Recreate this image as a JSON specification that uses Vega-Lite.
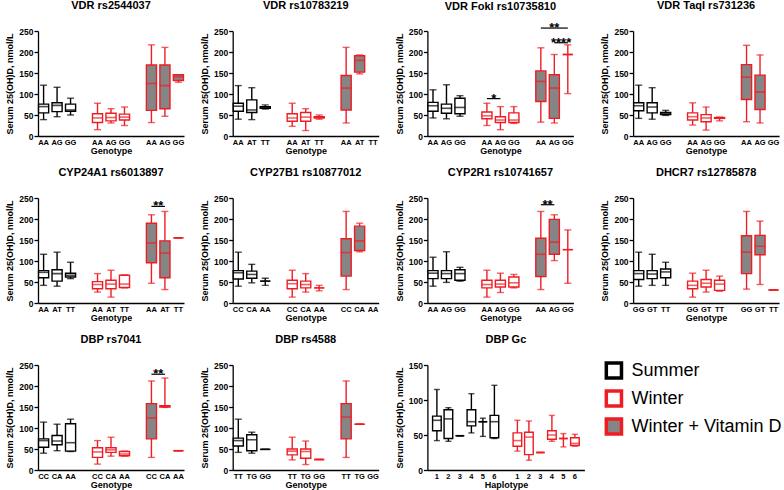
{
"$schema": "https://vega.github.io/schema/vega-lite/v6.json",
"padding": {"left": 5, "top": 0, "right": 0, "bottom": 0},
"columns": 4,
"align": "none",
"bounds": "flush",
"spacing": {"column": 48.7, "row": 62},
"resolve": {"legend": {"fill": "independent", "stroke": "independent"}},
"datasets": {
"box": [
{"p":1,"s":"Summer","k":"S|AA","lo":39,"q1":55,"md":70,"q3":76,"hi":121},
{"p":1,"s":"Summer","k":"S|AG","lo":46,"q1":58,"md":73,"q3":79,"hi":116},
{"p":1,"s":"Summer","k":"S|GG","lo":50,"q1":59,"md":62,"q3":76,"hi":90},
{"p":1,"s":"Winter","k":"W|AA","lo":15,"q1":32,"md":43,"q3":53,"hi":78},
{"p":1,"s":"Winter","k":"W|AG","lo":31,"q1":36,"md":44,"q3":54,"hi":65},
{"p":1,"s":"Winter","k":"W|GG","lo":25,"q1":38,"md":45,"q3":52,"hi":69},
{"p":1,"s":"Winter + Vitamin D","k":"V|AA","lo":32,"q1":61,"md":125,"q3":169,"hi":217},
{"p":1,"s":"Winter + Vitamin D","k":"V|AG","lo":47,"q1":65,"md":120,"q3":169,"hi":211},
{"p":1,"s":"Winter + Vitamin D","k":"V|GG","lo":128,"q1":132,"md":141,"q3":146,"hi":146},
{"p":2,"s":"Summer","k":"S|AA","lo":40,"q1":59,"md":71,"q3":78,"hi":120},
{"p":2,"s":"Summer","k":"S|AT","lo":39,"q1":56,"md":62,"q3":86,"hi":115},
{"p":2,"s":"Summer","k":"S|TT","lo":64,"q1":66,"md":68,"q3":70,"hi":74},
{"p":2,"s":"Winter","k":"W|AA","lo":23,"q1":35,"md":43,"q3":53,"hi":78},
{"p":2,"s":"Winter","k":"W|AT","lo":13,"q1":35,"md":45,"q3":56,"hi":65},
{"p":2,"s":"Winter","k":"W|TT","lo":40,"q1":43,"md":44,"q3":46,"hi":50},
{"p":2,"s":"Winter + Vitamin D","k":"V|AA","lo":31,"q1":62,"md":114,"q3":144,"hi":211},
{"p":2,"s":"Winter + Vitamin D","k":"V|AT","lo":148,"q1":152,"md":180,"q3":191,"hi":193},
{"p":3,"s":"Summer","k":"S|AA","lo":43,"q1":59,"md":72,"q3":80,"hi":110},
{"p":3,"s":"Summer","k":"S|AG","lo":41,"q1":54,"md":66,"q3":76,"hi":122},
{"p":3,"s":"Summer","k":"S|GG","lo":47,"q1":53,"md":68,"q3":90,"hi":96},
{"p":3,"s":"Winter","k":"W|AA","lo":25,"q1":41,"md":48,"q3":57,"hi":78},
{"p":3,"s":"Winter","k":"W|AG","lo":15,"q1":32,"md":38,"q3":46,"hi":70},
{"p":3,"s":"Winter","k":"W|GG","lo":30,"q1":32,"md":38,"q3":55,"hi":70},
{"p":3,"s":"Winter + Vitamin D","k":"V|AA","lo":33,"q1":82,"md":130,"q3":155,"hi":210},
{"p":3,"s":"Winter + Vitamin D","k":"V|AG","lo":31,"q1":42,"md":114,"q3":146,"hi":194},
{"p":3,"s":"Winter + Vitamin D","k":"V|GG","lo":101,"q1":194,"md":194,"q3":194,"hi":217},
{"p":4,"s":"Summer","k":"S|AA","lo":42,"q1":60,"md":72,"q3":79,"hi":121},
{"p":4,"s":"Summer","k":"S|AG","lo":40,"q1":55,"md":69,"q3":79,"hi":115},
{"p":4,"s":"Summer","k":"S|GG","lo":49,"q1":51,"md":53,"q3":56,"hi":61},
{"p":4,"s":"Winter","k":"W|AA","lo":26,"q1":38,"md":46,"q3":55,"hi":79},
{"p":4,"s":"Winter","k":"W|AG","lo":14,"q1":34,"md":43,"q3":51,"hi":69},
{"p":4,"s":"Winter","k":"W|GG","lo":36,"q1":42,"md":43,"q3":44,"hi":45},
{"p":4,"s":"Winter + Vitamin D","k":"V|AA","lo":34,"q1":87,"md":140,"q3":170,"hi":216},
{"p":4,"s":"Winter + Vitamin D","k":"V|AG","lo":31,"q1":63,"md":105,"q3":145,"hi":193},
{"p":5,"s":"Summer","k":"S|AA","lo":42,"q1":60,"md":73,"q3":77,"hi":116},
{"p":5,"s":"Summer","k":"S|AT","lo":40,"q1":52,"md":70,"q3":79,"hi":121},
{"p":5,"s":"Summer","k":"S|TT","lo":58,"q1":62,"md":66,"q3":71,"hi":97},
{"p":5,"s":"Winter","k":"W|AA","lo":26,"q1":34,"md":44,"q3":51,"hi":70},
{"p":5,"s":"Winter","k":"W|AT","lo":14,"q1":34,"md":45,"q3":54,"hi":78},
{"p":5,"s":"Winter","k":"W|TT","lo":36,"q1":37,"md":45,"q3":66,"hi":67},
{"p":5,"s":"Winter + Vitamin D","k":"V|AA","lo":47,"q1":96,"md":143,"q3":190,"hi":210},
{"p":5,"s":"Winter + Vitamin D","k":"V|AT","lo":32,"q1":60,"md":119,"q3":148,"hi":218},
{"p":5,"s":"Winter + Vitamin D","k":"V|TT","lo":155,"q1":155,"md":155,"q3":155,"hi":155},
{"p":6,"s":"Summer","k":"S|CC","lo":40,"q1":57,"md":72,"q3":77,"hi":121},
{"p":6,"s":"Summer","k":"S|CA","lo":48,"q1":59,"md":68,"q3":76,"hi":92},
{"p":6,"s":"Summer","k":"S|AA","lo":42,"q1":52,"md":52,"q3":52,"hi":59},
{"p":6,"s":"Winter","k":"W|CC","lo":14,"q1":34,"md":46,"q3":54,"hi":78},
{"p":6,"s":"Winter","k":"W|CA","lo":26,"q1":36,"md":44,"q3":52,"hi":70},
{"p":6,"s":"Winter","k":"W|AA","lo":29,"q1":36,"md":36,"q3":36,"hi":42},
{"p":6,"s":"Winter + Vitamin D","k":"V|CC","lo":32,"q1":64,"md":120,"q3":153,"hi":218},
{"p":6,"s":"Winter + Vitamin D","k":"V|CA","lo":122,"q1":125,"md":148,"q3":183,"hi":190},
{"p":7,"s":"Summer","k":"S|AA","lo":40,"q1":58,"md":71,"q3":77,"hi":109},
{"p":7,"s":"Summer","k":"S|AG","lo":49,"q1":58,"md":70,"q3":77,"hi":122},
{"p":7,"s":"Summer","k":"S|GG","lo":52,"q1":54,"md":70,"q3":79,"hi":85},
{"p":7,"s":"Winter","k":"W|AA","lo":14,"q1":36,"md":44,"q3":54,"hi":78},
{"p":7,"s":"Winter","k":"W|AG","lo":25,"q1":38,"md":45,"q3":54,"hi":71},
{"p":7,"s":"Winter","k":"W|GG","lo":36,"q1":38,"md":48,"q3":62,"hi":68},
{"p":7,"s":"Winter + Vitamin D","k":"V|AA","lo":32,"q1":63,"md":116,"q3":154,"hi":218},
{"p":7,"s":"Winter + Vitamin D","k":"V|AG","lo":101,"q1":116,"md":145,"q3":199,"hi":210},
{"p":7,"s":"Winter + Vitamin D","k":"V|GG","lo":47,"q1":127,"md":127,"q3":127,"hi":174},
{"p":8,"s":"Summer","k":"S|GG","lo":40,"q1":56,"md":70,"q3":77,"hi":121},
{"p":8,"s":"Summer","k":"S|GT","lo":42,"q1":58,"md":69,"q3":77,"hi":116},
{"p":8,"s":"Summer","k":"S|TT","lo":42,"q1":60,"md":74,"q3":81,"hi":97},
{"p":8,"s":"Winter","k":"W|GG","lo":14,"q1":34,"md":42,"q3":52,"hi":71},
{"p":8,"s":"Winter","k":"W|GT","lo":26,"q1":38,"md":47,"q3":56,"hi":78},
{"p":8,"s":"Winter","k":"W|TT","lo":28,"q1":30,"md":45,"q3":54,"hi":64},
{"p":8,"s":"Winter + Vitamin D","k":"V|GG","lo":33,"q1":70,"md":121,"q3":160,"hi":218},
{"p":8,"s":"Winter + Vitamin D","k":"V|GT","lo":44,"q1":115,"md":135,"q3":161,"hi":195},
{"p":8,"s":"Winter + Vitamin D","k":"V|TT","lo":31,"q1":31,"md":31,"q3":31,"hi":31},
{"p":9,"s":"Summer","k":"S|CC","lo":40,"q1":54,"md":70,"q3":74,"hi":114},
{"p":9,"s":"Summer","k":"S|CA","lo":46,"q1":60,"md":69,"q3":82,"hi":109},
{"p":9,"s":"Summer","k":"S|AA","lo":44,"q1":45,"md":65,"q3":110,"hi":121},
{"p":9,"s":"Winter","k":"W|CC","lo":14,"q1":30,"md":43,"q3":53,"hi":70},
{"p":9,"s":"Winter","k":"W|CA","lo":33,"q1":42,"md":48,"q3":53,"hi":78},
{"p":9,"s":"Winter","k":"W|AA","lo":33,"q1":34,"md":38,"q3":44,"hi":45},
{"p":9,"s":"Winter + Vitamin D","k":"V|CC","lo":30,"q1":74,"md":124,"q3":158,"hi":212},
{"p":9,"s":"Winter + Vitamin D","k":"V|CA","lo":149,"q1":150,"md":152,"q3":153,"hi":219},
{"p":9,"s":"Winter + Vitamin D","k":"V|AA","lo":46,"q1":46,"md":46,"q3":46,"hi":46},
{"p":10,"s":"Summer","k":"S|TT","lo":42,"q1":57,"md":70,"q3":76,"hi":121},
{"p":10,"s":"Summer","k":"S|TG","lo":40,"q1":46,"md":72,"q3":84,"hi":90},
{"p":10,"s":"Summer","k":"S|GG","lo":49,"q1":49,"md":49,"q3":49,"hi":49},
{"p":10,"s":"Winter","k":"W|TT","lo":24,"q1":36,"md":45,"q3":50,"hi":78},
{"p":10,"s":"Winter","k":"W|TG","lo":13,"q1":28,"md":44,"q3":50,"hi":69},
{"p":10,"s":"Winter","k":"W|GG","lo":25,"q1":25,"md":25,"q3":25,"hi":25},
{"p":10,"s":"Winter + Vitamin D","k":"V|TT","lo":30,"q1":74,"md":126,"q3":158,"hi":212},
{"p":10,"s":"Winter + Vitamin D","k":"V|TG","lo":109,"q1":109,"md":109,"q3":109,"hi":109},
{"p":11,"s":"Summer","k":"S|1","lo":42,"q1":56,"md":71,"q3":77,"hi":115},
{"p":11,"s":"Summer","k":"S|2","lo":41,"q1":45,"md":73,"q3":86,"hi":89},
{"p":11,"s":"Summer","k":"S|3","lo":49,"q1":49,"md":49,"q3":49,"hi":49},
{"p":11,"s":"Summer","k":"S|4","lo":53,"q1":63,"md":69,"q3":86,"hi":109},
{"p":11,"s":"Summer","k":"S|5","lo":48,"q1":69,"md":69,"q3":69,"hi":74},
{"p":11,"s":"Summer","k":"S|6","lo":45,"q1":46,"md":69,"q3":78,"hi":121},
{"p":11,"s":"Winter","k":"W|1","lo":27,"q1":34,"md":42,"q3":53,"hi":71},
{"p":11,"s":"Winter","k":"W|2","lo":14,"q1":22,"md":47,"q3":54,"hi":70},
{"p":11,"s":"Winter","k":"W|3","lo":25,"q1":25,"md":25,"q3":25,"hi":25},
{"p":11,"s":"Winter","k":"W|4","lo":41,"q1":44,"md":50,"q3":56,"hi":78},
{"p":11,"s":"Winter","k":"W|5","lo":33,"q1":45,"md":45,"q3":45,"hi":52},
{"p":11,"s":"Winter","k":"W|6","lo":34,"q1":35,"md":38,"q3":46,"hi":51}
],
"sig": [
{"p":3,"k1":"V|AA","k2":"V|GG","kt":"V|AG","mid":true,"y":257,"t":"**"},
{"p":3,"k1":"V|AG","k2":"V|GG","kt":"V|AG","mid":false,"y":222,"t":"****"},
{"p":3,"k1":"W|AA","k2":"W|AG","kt":"W|AA","mid":false,"y":89,"t":"*"},
{"p":5,"k1":"V|AA","k2":"V|AT","kt":"V|AA","mid":false,"y":230,"t":"**"},
{"p":7,"k1":"V|AA","k2":"V|AG","kt":"V|AA","mid":false,"y":234,"t":"**"},
{"p":9,"k1":"V|CC","k2":"V|CA","kt":"V|CC","mid":false,"y":228,"t":"**"}
]
},
"concat": [
{"title":"VDR rs2544037","width":146,"height":105,
 "encoding":{"x":{"field":"k","type":"nominal","title":"Genotype","scale":{"domain":["S|AA","S|AG","S|GG","g1","W|AA","W|AG","W|GG","g2","V|AA","V|AG","V|GG"],"paddingInner":0.25,"paddingOuter":0.04},"axis":{"labelExpr":"split(datum.value,'|')[1] || ''"}}},
 "layer":[
  {"data":{"name":"box"},"transform":[{"filter":"datum.p==1"}],"layer":[
   {"mark":{"type":"rule","strokeWidth":1.4},"encoding":{"y":{"field":"lo","type":"quantitative","scale":{"domain":[0,250],"nice":false},"axis":{"values":[0,50,100,150,200,250]},"title":"Serum 25(OH)D, nmol/L"},"y2":{"field":"hi"},"color":{"field":"s","type":"nominal","scale":{"domain":["Summer","Winter","Winter + Vitamin D"],"range":["#000000","#ee1d23","#ee1d23"]},"legend":null}}},
   {"mark":{"type":"bar","strokeWidth":1.4},"encoding":{"y":{"field":"q1","type":"quantitative","scale":{"domain":[0,250],"nice":false},"axis":{"values":[0,50,100,150,200,250]},"title":"Serum 25(OH)D, nmol/L"},"y2":{"field":"q3"},
     "fill":{"field":"s","type":"nominal","scale":{"domain":["Summer","Winter","Winter + Vitamin D"],"range":["#ffffff","#ffffff","#858585"]},"legend":null},
     "stroke":{"field":"s","type":"nominal","scale":{"domain":["Summer","Winter","Winter + Vitamin D"],"range":["#000000","#ee1d23","#ee1d23"]},"legend":null}}},
   {"mark":{"type":"tick","size":7,"thickness":1.4},"encoding":{"y":{"field":"lo","type":"quantitative","scale":{"domain":[0,250],"nice":false},"axis":{"values":[0,50,100,150,200,250]},"title":"Serum 25(OH)D, nmol/L"},"color":{"field":"s","type":"nominal","legend":null}}},
   {"mark":{"type":"tick","size":7,"thickness":1.4},"encoding":{"y":{"field":"hi","type":"quantitative","scale":{"domain":[0,250],"nice":false},"axis":{"values":[0,50,100,150,200,250]},"title":"Serum 25(OH)D, nmol/L"},"color":{"field":"s","type":"nominal","legend":null}}},
   {"mark":{"type":"tick","thickness":1.6},"encoding":{"y":{"field":"md","type":"quantitative","scale":{"domain":[0,250],"nice":false},"axis":{"values":[0,50,100,150,200,250]},"title":"Serum 25(OH)D, nmol/L"},"color":{"field":"s","type":"nominal","legend":null}}}
  ]}
 ]},
{"title":"VDR rs10783219","width":146,"height":105,
 "encoding":{"x":{"field":"k","type":"nominal","title":"Genotype","scale":{"domain":["S|AA","S|AT","S|TT","g1","W|AA","W|AT","W|TT","g2","V|AA","V|AT","V|TT"],"paddingInner":0.25,"paddingOuter":0.04},"axis":{"labelExpr":"split(datum.value,'|')[1] || ''"}}},
 "layer":[
  {"data":{"name":"box"},"transform":[{"filter":"datum.p==2"}],"layer":[
   {"mark":{"type":"rule","strokeWidth":1.4},"encoding":{"y":{"field":"lo","type":"quantitative","scale":{"domain":[0,250],"nice":false},"axis":{"values":[0,50,100,150,200,250]},"title":"Serum 25(OH)D, nmol/L"},"y2":{"field":"hi"},"color":{"field":"s","type":"nominal","legend":null}}},
   {"mark":{"type":"bar","strokeWidth":1.4},"encoding":{"y":{"field":"q1","type":"quantitative","scale":{"domain":[0,250],"nice":false},"axis":{"values":[0,50,100,150,200,250]},"title":"Serum 25(OH)D, nmol/L"},"y2":{"field":"q3"},"fill":{"field":"s","type":"nominal","legend":null},"stroke":{"field":"s","type":"nominal","legend":null}}},
   {"mark":{"type":"tick","size":7,"thickness":1.4},"encoding":{"y":{"field":"lo","type":"quantitative","scale":{"domain":[0,250],"nice":false},"axis":{"values":[0,50,100,150,200,250]},"title":"Serum 25(OH)D, nmol/L"},"color":{"field":"s","type":"nominal","legend":null}}},
   {"mark":{"type":"tick","size":7,"thickness":1.4},"encoding":{"y":{"field":"hi","type":"quantitative","scale":{"domain":[0,250],"nice":false},"axis":{"values":[0,50,100,150,200,250]},"title":"Serum 25(OH)D, nmol/L"},"color":{"field":"s","type":"nominal","legend":null}}},
   {"mark":{"type":"tick","thickness":1.6},"encoding":{"y":{"field":"md","type":"quantitative","scale":{"domain":[0,250],"nice":false},"axis":{"values":[0,50,100,150,200,250]},"title":"Serum 25(OH)D, nmol/L"},"color":{"field":"s","type":"nominal","legend":null}}}
  ]}
 ]},
{"title":{"text":"VDR FokI rs10735810","dy":6},"width":146,"height":105,
 "encoding":{"x":{"field":"k","type":"nominal","title":"Genotype","scale":{"domain":["S|AA","S|AG","S|GG","g1","W|AA","W|AG","W|GG","g2","V|AA","V|AG","V|GG"],"paddingInner":0.25,"paddingOuter":0.04},"axis":{"labelExpr":"split(datum.value,'|')[1] || ''"}}},
 "layer":[
  {"data":{"name":"box"},"transform":[{"filter":"datum.p==3"}],"layer":[
   {"mark":{"type":"rule","strokeWidth":1.4},"encoding":{"y":{"field":"lo","type":"quantitative","scale":{"domain":[0,250],"nice":false},"axis":{"values":[0,50,100,150,200,250]},"title":"Serum 25(OH)D, nmol/L"},"y2":{"field":"hi"},"color":{"field":"s","type":"nominal","legend":null}}},
   {"mark":{"type":"bar","strokeWidth":1.4},"encoding":{"y":{"field":"q1","type":"quantitative","scale":{"domain":[0,250],"nice":false},"axis":{"values":[0,50,100,150,200,250]},"title":"Serum 25(OH)D, nmol/L"},"y2":{"field":"q3"},"fill":{"field":"s","type":"nominal","legend":null},"stroke":{"field":"s","type":"nominal","legend":null}}},
   {"mark":{"type":"tick","size":7,"thickness":1.4},"encoding":{"y":{"field":"lo","type":"quantitative","scale":{"domain":[0,250],"nice":false},"axis":{"values":[0,50,100,150,200,250]},"title":"Serum 25(OH)D, nmol/L"},"color":{"field":"s","type":"nominal","legend":null}}},
   {"mark":{"type":"tick","size":7,"thickness":1.4},"encoding":{"y":{"field":"hi","type":"quantitative","scale":{"domain":[0,250],"nice":false},"axis":{"values":[0,50,100,150,200,250]},"title":"Serum 25(OH)D, nmol/L"},"color":{"field":"s","type":"nominal","legend":null}}},
   {"mark":{"type":"tick","thickness":1.6},"encoding":{"y":{"field":"md","type":"quantitative","scale":{"domain":[0,250],"nice":false},"axis":{"values":[0,50,100,150,200,250]},"title":"Serum 25(OH)D, nmol/L"},"color":{"field":"s","type":"nominal","legend":null}}}
  ]},
  {"data":{"name":"sig"},"transform":[{"filter":"datum.p==3"}],"layer":[
   {"mark":{"type":"rule","strokeWidth":1.2,"color":"black"},"encoding":{"x":{"field":"k1","type":"nominal","title":"Genotype","scale":{"domain":["S|AA","S|AG","S|GG","g1","W|AA","W|AG","W|GG","g2","V|AA","V|AG","V|GG"],"paddingInner":0.25,"paddingOuter":0.04}},"x2":{"field":"k2"},"y":{"field":"y","type":"quantitative","scale":{"domain":[0,250],"nice":false},"axis":{"values":[0,50,100,150,200,250]},"title":"Serum 25(OH)D, nmol/L"}}},
   {"transform":[{"filter":"datum.mid"}],"mark":{"type":"text","fontSize":13,"fontWeight":"bold","dy":4,"baseline":"alphabetic","color":"black"},"encoding":{"x":{"field":"kt","type":"nominal","bandPosition":0.5,"title":"Genotype","scale":{"domain":["S|AA","S|AG","S|GG","g1","W|AA","W|AG","W|GG","g2","V|AA","V|AG","V|GG"],"paddingInner":0.25,"paddingOuter":0.04}},"y":{"field":"y","type":"quantitative","scale":{"domain":[0,250],"nice":false},"axis":{"values":[0,50,100,150,200,250]},"title":"Serum 25(OH)D, nmol/L"},"text":{"field":"t"}}},
   {"transform":[{"filter":"!datum.mid"}],"mark":{"type":"text","fontSize":13,"fontWeight":"bold","dy":4,"baseline":"alphabetic","color":"black"},"encoding":{"x":{"field":"kt","type":"nominal","bandPosition":1.17,"title":"Genotype","scale":{"domain":["S|AA","S|AG","S|GG","g1","W|AA","W|AG","W|GG","g2","V|AA","V|AG","V|GG"],"paddingInner":0.25,"paddingOuter":0.04}},"y":{"field":"y","type":"quantitative","scale":{"domain":[0,250],"nice":false},"axis":{"values":[0,50,100,150,200,250]},"title":"Serum 25(OH)D, nmol/L"},"text":{"field":"t"}}}
  ]}
 ]},
{"title":"VDR TaqI rs731236","width":146,"height":105,
 "encoding":{"x":{"field":"k","type":"nominal","title":"Genotype","scale":{"domain":["S|AA","S|AG","S|GG","g1","W|AA","W|AG","W|GG","g2","V|AA","V|AG","V|GG"],"paddingInner":0.25,"paddingOuter":0.04},"axis":{"labelExpr":"split(datum.value,'|')[1] || ''"}}},
 "layer":[
  {"data":{"name":"box"},"transform":[{"filter":"datum.p==4"}],"layer":[
   {"mark":{"type":"rule","strokeWidth":1.4},"encoding":{"y":{"field":"lo","type":"quantitative","scale":{"domain":[0,250],"nice":false},"axis":{"values":[0,50,100,150,200,250]},"title":"Serum 25(OH)D, nmol/L"},"y2":{"field":"hi"},"color":{"field":"s","type":"nominal","legend":null}}},
   {"mark":{"type":"bar","strokeWidth":1.4},"encoding":{"y":{"field":"q1","type":"quantitative","scale":{"domain":[0,250],"nice":false},"axis":{"values":[0,50,100,150,200,250]},"title":"Serum 25(OH)D, nmol/L"},"y2":{"field":"q3"},"fill":{"field":"s","type":"nominal","legend":null},"stroke":{"field":"s","type":"nominal","legend":null}}},
   {"mark":{"type":"tick","size":7,"thickness":1.4},"encoding":{"y":{"field":"lo","type":"quantitative","scale":{"domain":[0,250],"nice":false},"axis":{"values":[0,50,100,150,200,250]},"title":"Serum 25(OH)D, nmol/L"},"color":{"field":"s","type":"nominal","legend":null}}},
   {"mark":{"type":"tick","size":7,"thickness":1.4},"encoding":{"y":{"field":"hi","type":"quantitative","scale":{"domain":[0,250],"nice":false},"axis":{"values":[0,50,100,150,200,250]},"title":"Serum 25(OH)D, nmol/L"},"color":{"field":"s","type":"nominal","legend":null}}},
   {"mark":{"type":"tick","thickness":1.6},"encoding":{"y":{"field":"md","type":"quantitative","scale":{"domain":[0,250],"nice":false},"axis":{"values":[0,50,100,150,200,250]},"title":"Serum 25(OH)D, nmol/L"},"color":{"field":"s","type":"nominal","legend":null}}}
  ]}
 ]},
{"title":"CYP24A1 rs6013897","width":146,"height":105,
 "encoding":{"x":{"field":"k","type":"nominal","title":"Genotype","scale":{"domain":["S|AA","S|AT","S|TT","g1","W|AA","W|AT","W|TT","g2","V|AA","V|AT","V|TT"],"paddingInner":0.25,"paddingOuter":0.04},"axis":{"labelExpr":"split(datum.value,'|')[1] || ''"}}},
 "layer":[
  {"data":{"name":"box"},"transform":[{"filter":"datum.p==5"}],"layer":[
   {"mark":{"type":"rule","strokeWidth":1.4},"encoding":{"y":{"field":"lo","type":"quantitative","scale":{"domain":[0,250],"nice":false},"axis":{"values":[0,50,100,150,200,250]},"title":"Serum 25(OH)D, nmol/L"},"y2":{"field":"hi"},"color":{"field":"s","type":"nominal","legend":null}}},
   {"mark":{"type":"bar","strokeWidth":1.4},"encoding":{"y":{"field":"q1","type":"quantitative","scale":{"domain":[0,250],"nice":false},"axis":{"values":[0,50,100,150,200,250]},"title":"Serum 25(OH)D, nmol/L"},"y2":{"field":"q3"},"fill":{"field":"s","type":"nominal","legend":null},"stroke":{"field":"s","type":"nominal","legend":null}}},
   {"mark":{"type":"tick","size":7,"thickness":1.4},"encoding":{"y":{"field":"lo","type":"quantitative","scale":{"domain":[0,250],"nice":false},"axis":{"values":[0,50,100,150,200,250]},"title":"Serum 25(OH)D, nmol/L"},"color":{"field":"s","type":"nominal","legend":null}}},
   {"mark":{"type":"tick","size":7,"thickness":1.4},"encoding":{"y":{"field":"hi","type":"quantitative","scale":{"domain":[0,250],"nice":false},"axis":{"values":[0,50,100,150,200,250]},"title":"Serum 25(OH)D, nmol/L"},"color":{"field":"s","type":"nominal","legend":null}}},
   {"mark":{"type":"tick","thickness":1.6},"encoding":{"y":{"field":"md","type":"quantitative","scale":{"domain":[0,250],"nice":false},"axis":{"values":[0,50,100,150,200,250]},"title":"Serum 25(OH)D, nmol/L"},"color":{"field":"s","type":"nominal","legend":null}}}
  ]},
  {"data":{"name":"sig"},"transform":[{"filter":"datum.p==5"}],"layer":[
   {"mark":{"type":"rule","strokeWidth":1.2,"color":"black"},"encoding":{"x":{"field":"k1","type":"nominal","title":"Genotype","scale":{"domain":["S|AA","S|AT","S|TT","g1","W|AA","W|AT","W|TT","g2","V|AA","V|AT","V|TT"],"paddingInner":0.25,"paddingOuter":0.04}},"x2":{"field":"k2"},"y":{"field":"y","type":"quantitative","scale":{"domain":[0,250],"nice":false},"axis":{"values":[0,50,100,150,200,250]},"title":"Serum 25(OH)D, nmol/L"}}},
   {"mark":{"type":"text","fontSize":13,"fontWeight":"bold","dy":4,"baseline":"alphabetic","color":"black"},"encoding":{"x":{"field":"kt","type":"nominal","bandPosition":1.17,"title":"Genotype","scale":{"domain":["S|AA","S|AT","S|TT","g1","W|AA","W|AT","W|TT","g2","V|AA","V|AT","V|TT"],"paddingInner":0.25,"paddingOuter":0.04}},"y":{"field":"y","type":"quantitative","scale":{"domain":[0,250],"nice":false},"axis":{"values":[0,50,100,150,200,250]},"title":"Serum 25(OH)D, nmol/L"},"text":{"field":"t"}}}
  ]}
 ]},
{"title":"CYP27B1 rs10877012","width":146,"height":105,
 "encoding":{"x":{"field":"k","type":"nominal","title":"Genotype","scale":{"domain":["S|CC","S|CA","S|AA","g1","W|CC","W|CA","W|AA","g2","V|CC","V|CA","V|AA"],"paddingInner":0.25,"paddingOuter":0.04},"axis":{"labelExpr":"split(datum.value,'|')[1] || ''"}}},
 "layer":[
  {"data":{"name":"box"},"transform":[{"filter":"datum.p==6"}],"layer":[
   {"mark":{"type":"rule","strokeWidth":1.4},"encoding":{"y":{"field":"lo","type":"quantitative","scale":{"domain":[0,250],"nice":false},"axis":{"values":[0,50,100,150,200,250]},"title":"Serum 25(OH)D, nmol/L"},"y2":{"field":"hi"},"color":{"field":"s","type":"nominal","legend":null}}},
   {"mark":{"type":"bar","strokeWidth":1.4},"encoding":{"y":{"field":"q1","type":"quantitative","scale":{"domain":[0,250],"nice":false},"axis":{"values":[0,50,100,150,200,250]},"title":"Serum 25(OH)D, nmol/L"},"y2":{"field":"q3"},"fill":{"field":"s","type":"nominal","legend":null},"stroke":{"field":"s","type":"nominal","legend":null}}},
   {"mark":{"type":"tick","size":7,"thickness":1.4},"encoding":{"y":{"field":"lo","type":"quantitative","scale":{"domain":[0,250],"nice":false},"axis":{"values":[0,50,100,150,200,250]},"title":"Serum 25(OH)D, nmol/L"},"color":{"field":"s","type":"nominal","legend":null}}},
   {"mark":{"type":"tick","size":7,"thickness":1.4},"encoding":{"y":{"field":"hi","type":"quantitative","scale":{"domain":[0,250],"nice":false},"axis":{"values":[0,50,100,150,200,250]},"title":"Serum 25(OH)D, nmol/L"},"color":{"field":"s","type":"nominal","legend":null}}},
   {"mark":{"type":"tick","thickness":1.6},"encoding":{"y":{"field":"md","type":"quantitative","scale":{"domain":[0,250],"nice":false},"axis":{"values":[0,50,100,150,200,250]},"title":"Serum 25(OH)D, nmol/L"},"color":{"field":"s","type":"nominal","legend":null}}}
  ]}
 ]},
{"title":"CYP2R1 rs10741657","width":146,"height":105,
 "encoding":{"x":{"field":"k","type":"nominal","title":"Genotype","scale":{"domain":["S|AA","S|AG","S|GG","g1","W|AA","W|AG","W|GG","g2","V|AA","V|AG","V|GG"],"paddingInner":0.25,"paddingOuter":0.04},"axis":{"labelExpr":"split(datum.value,'|')[1] || ''"}}},
 "layer":[
  {"data":{"name":"box"},"transform":[{"filter":"datum.p==7"}],"layer":[
   {"mark":{"type":"rule","strokeWidth":1.4},"encoding":{"y":{"field":"lo","type":"quantitative","scale":{"domain":[0,250],"nice":false},"axis":{"values":[0,50,100,150,200,250]},"title":"Serum 25(OH)D, nmol/L"},"y2":{"field":"hi"},"color":{"field":"s","type":"nominal","legend":null}}},
   {"mark":{"type":"bar","strokeWidth":1.4},"encoding":{"y":{"field":"q1","type":"quantitative","scale":{"domain":[0,250],"nice":false},"axis":{"values":[0,50,100,150,200,250]},"title":"Serum 25(OH)D, nmol/L"},"y2":{"field":"q3"},"fill":{"field":"s","type":"nominal","legend":null},"stroke":{"field":"s","type":"nominal","legend":null}}},
   {"mark":{"type":"tick","size":7,"thickness":1.4},"encoding":{"y":{"field":"lo","type":"quantitative","scale":{"domain":[0,250],"nice":false},"axis":{"values":[0,50,100,150,200,250]},"title":"Serum 25(OH)D, nmol/L"},"color":{"field":"s","type":"nominal","legend":null}}},
   {"mark":{"type":"tick","size":7,"thickness":1.4},"encoding":{"y":{"field":"hi","type":"quantitative","scale":{"domain":[0,250],"nice":false},"axis":{"values":[0,50,100,150,200,250]},"title":"Serum 25(OH)D, nmol/L"},"color":{"field":"s","type":"nominal","legend":null}}},
   {"mark":{"type":"tick","thickness":1.6},"encoding":{"y":{"field":"md","type":"quantitative","scale":{"domain":[0,250],"nice":false},"axis":{"values":[0,50,100,150,200,250]},"title":"Serum 25(OH)D, nmol/L"},"color":{"field":"s","type":"nominal","legend":null}}}
  ]},
  {"data":{"name":"sig"},"transform":[{"filter":"datum.p==7"}],"layer":[
   {"mark":{"type":"rule","strokeWidth":1.2,"color":"black"},"encoding":{"x":{"field":"k1","type":"nominal","title":"Genotype","scale":{"domain":["S|AA","S|AG","S|GG","g1","W|AA","W|AG","W|GG","g2","V|AA","V|AG","V|GG"],"paddingInner":0.25,"paddingOuter":0.04}},"x2":{"field":"k2"},"y":{"field":"y","type":"quantitative","scale":{"domain":[0,250],"nice":false},"axis":{"values":[0,50,100,150,200,250]},"title":"Serum 25(OH)D, nmol/L"}}},
   {"mark":{"type":"text","fontSize":13,"fontWeight":"bold","dy":4,"baseline":"alphabetic","color":"black"},"encoding":{"x":{"field":"kt","type":"nominal","bandPosition":1.17,"title":"Genotype","scale":{"domain":["S|AA","S|AG","S|GG","g1","W|AA","W|AG","W|GG","g2","V|AA","V|AG","V|GG"],"paddingInner":0.25,"paddingOuter":0.04}},"y":{"field":"y","type":"quantitative","scale":{"domain":[0,250],"nice":false},"axis":{"values":[0,50,100,150,200,250]},"title":"Serum 25(OH)D, nmol/L"},"text":{"field":"t"}}}
  ]}
 ]},
{"title":"DHCR7 rs12785878","width":146,"height":105,
 "encoding":{"x":{"field":"k","type":"nominal","title":"Genotype","scale":{"domain":["S|GG","S|GT","S|TT","g1","W|GG","W|GT","W|TT","g2","V|GG","V|GT","V|TT"],"paddingInner":0.25,"paddingOuter":0.04},"axis":{"labelExpr":"split(datum.value,'|')[1] || ''"}}},
 "layer":[
  {"data":{"name":"box"},"transform":[{"filter":"datum.p==8"}],"layer":[
   {"mark":{"type":"rule","strokeWidth":1.4},"encoding":{"y":{"field":"lo","type":"quantitative","scale":{"domain":[0,250],"nice":false},"axis":{"values":[0,50,100,150,200,250]},"title":"Serum 25(OH)D, nmol/L"},"y2":{"field":"hi"},"color":{"field":"s","type":"nominal","legend":null}}},
   {"mark":{"type":"bar","strokeWidth":1.4},"encoding":{"y":{"field":"q1","type":"quantitative","scale":{"domain":[0,250],"nice":false},"axis":{"values":[0,50,100,150,200,250]},"title":"Serum 25(OH)D, nmol/L"},"y2":{"field":"q3"},"fill":{"field":"s","type":"nominal","legend":null},"stroke":{"field":"s","type":"nominal","legend":null}}},
   {"mark":{"type":"tick","size":7,"thickness":1.4},"encoding":{"y":{"field":"lo","type":"quantitative","scale":{"domain":[0,250],"nice":false},"axis":{"values":[0,50,100,150,200,250]},"title":"Serum 25(OH)D, nmol/L"},"color":{"field":"s","type":"nominal","legend":null}}},
   {"mark":{"type":"tick","size":7,"thickness":1.4},"encoding":{"y":{"field":"hi","type":"quantitative","scale":{"domain":[0,250],"nice":false},"axis":{"values":[0,50,100,150,200,250]},"title":"Serum 25(OH)D, nmol/L"},"color":{"field":"s","type":"nominal","legend":null}}},
   {"mark":{"type":"tick","thickness":1.6},"encoding":{"y":{"field":"md","type":"quantitative","scale":{"domain":[0,250],"nice":false},"axis":{"values":[0,50,100,150,200,250]},"title":"Serum 25(OH)D, nmol/L"},"color":{"field":"s","type":"nominal","legend":null}}}
  ]}
 ]},
{"title":"DBP rs7041","width":146,"height":105,
 "encoding":{"x":{"field":"k","type":"nominal","title":"Genotype","scale":{"domain":["S|CC","S|CA","S|AA","g1","W|CC","W|CA","W|AA","g2","V|CC","V|CA","V|AA"],"paddingInner":0.25,"paddingOuter":0.04},"axis":{"labelExpr":"split(datum.value,'|')[1] || ''"}}},
 "layer":[
  {"data":{"name":"box"},"transform":[{"filter":"datum.p==9"}],"layer":[
   {"mark":{"type":"rule","strokeWidth":1.4},"encoding":{"y":{"field":"lo","type":"quantitative","scale":{"domain":[0,250],"nice":false},"axis":{"values":[0,50,100,150,200,250]},"title":"Serum 25(OH)D, nmol/L"},"y2":{"field":"hi"},"color":{"field":"s","type":"nominal","legend":null}}},
   {"mark":{"type":"bar","strokeWidth":1.4},"encoding":{"y":{"field":"q1","type":"quantitative","scale":{"domain":[0,250],"nice":false},"axis":{"values":[0,50,100,150,200,250]},"title":"Serum 25(OH)D, nmol/L"},"y2":{"field":"q3"},"fill":{"field":"s","type":"nominal","legend":null},"stroke":{"field":"s","type":"nominal","legend":null}}},
   {"mark":{"type":"tick","size":7,"thickness":1.4},"encoding":{"y":{"field":"lo","type":"quantitative","scale":{"domain":[0,250],"nice":false},"axis":{"values":[0,50,100,150,200,250]},"title":"Serum 25(OH)D, nmol/L"},"color":{"field":"s","type":"nominal","legend":null}}},
   {"mark":{"type":"tick","size":7,"thickness":1.4},"encoding":{"y":{"field":"hi","type":"quantitative","scale":{"domain":[0,250],"nice":false},"axis":{"values":[0,50,100,150,200,250]},"title":"Serum 25(OH)D, nmol/L"},"color":{"field":"s","type":"nominal","legend":null}}},
   {"mark":{"type":"tick","thickness":1.6},"encoding":{"y":{"field":"md","type":"quantitative","scale":{"domain":[0,250],"nice":false},"axis":{"values":[0,50,100,150,200,250]},"title":"Serum 25(OH)D, nmol/L"},"color":{"field":"s","type":"nominal","legend":null}}}
  ]},
  {"data":{"name":"sig"},"transform":[{"filter":"datum.p==9"}],"layer":[
   {"mark":{"type":"rule","strokeWidth":1.2,"color":"black"},"encoding":{"x":{"field":"k1","type":"nominal","title":"Genotype","scale":{"domain":["S|CC","S|CA","S|AA","g1","W|CC","W|CA","W|AA","g2","V|CC","V|CA","V|AA"],"paddingInner":0.25,"paddingOuter":0.04}},"x2":{"field":"k2"},"y":{"field":"y","type":"quantitative","scale":{"domain":[0,250],"nice":false},"axis":{"values":[0,50,100,150,200,250]},"title":"Serum 25(OH)D, nmol/L"}}},
   {"mark":{"type":"text","fontSize":13,"fontWeight":"bold","dy":4,"baseline":"alphabetic","color":"black"},"encoding":{"x":{"field":"kt","type":"nominal","bandPosition":1.17,"title":"Genotype","scale":{"domain":["S|CC","S|CA","S|AA","g1","W|CC","W|CA","W|AA","g2","V|CC","V|CA","V|AA"],"paddingInner":0.25,"paddingOuter":0.04}},"y":{"field":"y","type":"quantitative","scale":{"domain":[0,250],"nice":false},"axis":{"values":[0,50,100,150,200,250]},"title":"Serum 25(OH)D, nmol/L"},"text":{"field":"t"}}}
  ]}
 ]},
{"title":"DBP rs4588","width":146,"height":105,
 "encoding":{"x":{"field":"k","type":"nominal","title":"Genotype","scale":{"domain":["S|TT","S|TG","S|GG","g1","W|TT","W|TG","W|GG","g2","V|TT","V|TG","V|GG"],"paddingInner":0.25,"paddingOuter":0.04},"axis":{"labelExpr":"split(datum.value,'|')[1] || ''"}}},
 "layer":[
  {"data":{"name":"box"},"transform":[{"filter":"datum.p==10"}],"layer":[
   {"mark":{"type":"rule","strokeWidth":1.4},"encoding":{"y":{"field":"lo","type":"quantitative","scale":{"domain":[0,250],"nice":false},"axis":{"values":[0,50,100,150,200,250]},"title":"Serum 25(OH)D, nmol/L"},"y2":{"field":"hi"},"color":{"field":"s","type":"nominal","legend":null}}},
   {"mark":{"type":"bar","strokeWidth":1.4},"encoding":{"y":{"field":"q1","type":"quantitative","scale":{"domain":[0,250],"nice":false},"axis":{"values":[0,50,100,150,200,250]},"title":"Serum 25(OH)D, nmol/L"},"y2":{"field":"q3"},"fill":{"field":"s","type":"nominal","legend":null},"stroke":{"field":"s","type":"nominal","legend":null}}},
   {"mark":{"type":"tick","size":7,"thickness":1.4},"encoding":{"y":{"field":"lo","type":"quantitative","scale":{"domain":[0,250],"nice":false},"axis":{"values":[0,50,100,150,200,250]},"title":"Serum 25(OH)D, nmol/L"},"color":{"field":"s","type":"nominal","legend":null}}},
   {"mark":{"type":"tick","size":7,"thickness":1.4},"encoding":{"y":{"field":"hi","type":"quantitative","scale":{"domain":[0,250],"nice":false},"axis":{"values":[0,50,100,150,200,250]},"title":"Serum 25(OH)D, nmol/L"},"color":{"field":"s","type":"nominal","legend":null}}},
   {"mark":{"type":"tick","thickness":1.6},"encoding":{"y":{"field":"md","type":"quantitative","scale":{"domain":[0,250],"nice":false},"axis":{"values":[0,50,100,150,200,250]},"title":"Serum 25(OH)D, nmol/L"},"color":{"field":"s","type":"nominal","legend":null}}}
  ]}
 ]},
{"title":"DBP Gc","width":157,"height":105,
 "encoding":{"x":{"field":"k","type":"nominal","title":"Haplotype","scale":{"domain":["S|1","S|2","S|3","S|4","S|5","S|6","g1","W|1","W|2","W|3","W|4","W|5","W|6"],"paddingInner":0.25,"paddingOuter":0.45},"axis":{"labelExpr":"split(datum.value,'|')[1] || ''"}}},
 "layer":[
  {"data":{"name":"box"},"transform":[{"filter":"datum.p==11"}],"layer":[
   {"mark":{"type":"rule","strokeWidth":1.4},"encoding":{"y":{"field":"lo","type":"quantitative","scale":{"domain":[0,150],"nice":false},"axis":{"values":[0,50,100,150]},"title":"Serum 25(OH)D, nmol/L"},"y2":{"field":"hi"},"color":{"field":"s","type":"nominal","legend":null}}},
   {"mark":{"type":"bar","strokeWidth":1.4},"encoding":{"y":{"field":"q1","type":"quantitative","scale":{"domain":[0,150],"nice":false},"axis":{"values":[0,50,100,150]},"title":"Serum 25(OH)D, nmol/L"},"y2":{"field":"q3"},
     "fill":{"field":"s","type":"nominal","scale":{"domain":["Summer","Winter","Winter + Vitamin D"],"range":["#ffffff","#ffffff","#858585"]},"legend":{"title":null,"orient":"none","legendX":177,"legendY":-4}},
     "stroke":{"field":"s","type":"nominal","scale":{"domain":["Summer","Winter","Winter + Vitamin D"],"range":["#000000","#ee1d23","#ee1d23"]},"legend":{"title":null,"orient":"none","legendX":177,"legendY":-4}}}},
   {"mark":{"type":"tick","size":6,"thickness":1.4},"encoding":{"y":{"field":"lo","type":"quantitative","scale":{"domain":[0,150],"nice":false},"axis":{"values":[0,50,100,150]},"title":"Serum 25(OH)D, nmol/L"},"color":{"field":"s","type":"nominal","legend":null}}},
   {"mark":{"type":"tick","size":6,"thickness":1.4},"encoding":{"y":{"field":"hi","type":"quantitative","scale":{"domain":[0,150],"nice":false},"axis":{"values":[0,50,100,150]},"title":"Serum 25(OH)D, nmol/L"},"color":{"field":"s","type":"nominal","legend":null}}},
   {"mark":{"type":"tick","thickness":1.6},"encoding":{"y":{"field":"md","type":"quantitative","scale":{"domain":[0,150],"nice":false},"axis":{"values":[0,50,100,150]},"title":"Serum 25(OH)D, nmol/L"},"color":{"field":"s","type":"nominal","legend":null}}}
  ]}
 ]}
],
"config": {
 "font": "Liberation Sans",
 "view": {"stroke": null},
 "title": {"fontSize": 11, "fontWeight": "bold", "color": "#000000", "frame": "group", "anchor": "middle", "offset": 16},
 "axis": {"domainColor": "#000000", "domainWidth": 1.3, "tickColor": "#000000", "tickWidth": 1.3, "labelColor": "#000000", "labelFontWeight": "bold", "titleColor": "#000000", "titleFontWeight": "bold", "grid": false, "labelFontSize": 8.5, "titleFontSize": 9, "labelOverlap": false},
 "axisY": {"tickSize": 4, "labelPadding": 1, "titlePadding": 4, "labelOverlap": false},
 "axisX": {"ticks": false, "labelAngle": 0, "labelFontSize": 7.5, "labelPadding": 2, "titlePadding": 1, "labelFlush": false, "labelBound": false},
 "legend": {"symbolType": "square", "symbolSize": 230, "symbolStrokeWidth": 3.5, "labelFontSize": 18, "labelColor": "#000000", "rowPadding": -3, "labelOffset": 8, "labelLimit": 250, "padding": 0}
}
}
